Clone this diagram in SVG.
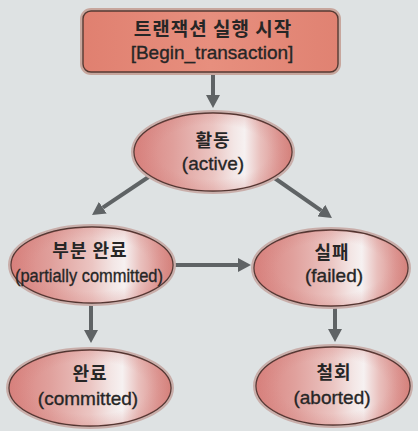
<svg xmlns="http://www.w3.org/2000/svg" width="418" height="431" viewBox="0 0 418 431">
<style>
.ko{font-family:"Noto Sans CJK KR","Noto Sans",sans-serif;font-weight:700;font-size:18px;fill:#262626;text-anchor:middle;letter-spacing:1px}
.en{font-family:"Liberation Sans",Arial,sans-serif;font-size:19px;fill:#262626;stroke:#262626;stroke-width:0.35;text-anchor:middle}
.halo{fill:none;stroke:#c9aeaa;stroke-width:6}
.shape{fill:url(#eg);stroke:#4e332f;stroke-width:1.3}
.shade{fill:url(#rg);stroke:none}
.conn{stroke:#5f6365;stroke-width:4;fill:none;marker-end:url(#ah)}
</style>
<defs>
<linearGradient id="eg" x1="0" y1="0" x2="1" y2="0">
<stop offset="0" stop-color="#d9837f"/>
<stop offset="0.25" stop-color="#e0a09c"/>
<stop offset="0.5" stop-color="#ebc5c2"/>
<stop offset="0.63" stop-color="#f3e6e5"/>
<stop offset="0.7" stop-color="#f6f1f1"/>
<stop offset="0.8" stop-color="#e9c0bd"/>
<stop offset="0.92" stop-color="#de9995"/>
<stop offset="1" stop-color="#d6857f"/>
</linearGradient>
<radialGradient id="rg" cx="0.5" cy="0.5" r="0.5">
<stop offset="0.7" stop-color="#cf7470" stop-opacity="0"/>
<stop offset="1" stop-color="#cf7470" stop-opacity="0.22"/>
</radialGradient>
<linearGradient id="bg" x1="0" y1="0" x2="1" y2="0">
<stop offset="0" stop-color="#e08070"/>
<stop offset="0.5" stop-color="#e78f7e"/>
<stop offset="1" stop-color="#e08272"/>
</linearGradient>
<marker id="ah" viewBox="0 0 13 14" refX="0" refY="7" markerWidth="13" markerHeight="14" markerUnits="userSpaceOnUse" orient="auto">
<path d="M0,0 L13,7 L0,14 z" fill="#5f6365"/>
</marker>
</defs>
<rect x="0" y="0" width="418" height="431" fill="#dee2e3"/>
<g id="connectors">
<line class="conn" x1="213" y1="74" x2="213" y2="95"/>
<line class="conn" x1="150" y1="176" x2="102.8" y2="207.7"/>
<line class="conn" x1="273" y1="177" x2="321.3" y2="210.6"/>
<line class="conn" x1="174" y1="265" x2="238" y2="265"/>
<line class="conn" x1="91" y1="305" x2="91" y2="330"/>
<line class="conn" x1="335" y1="307" x2="335" y2="329"/>
</g>
<g id="begin">
<rect x="83" y="11" width="255" height="61" rx="8" fill="none" stroke="#c7a69d" stroke-width="6"/>
<rect x="83" y="11" width="255" height="61" rx="8" fill="url(#bg)" stroke="#553a33" stroke-width="1.4"/>
<text class="ko" x="213" y="36" style="font-size:19px">트랜잭션 실행 시작</text>
<text class="en" x="212" y="59">[Begin_transaction]</text>
</g>
<g id="active">
<ellipse class="halo" cx="213" cy="152" rx="79" ry="39"/>
<ellipse class="shape" cx="213" cy="152" rx="79" ry="39"/>
<ellipse class="shade" cx="213" cy="152" rx="79" ry="39"/>
<text class="ko" x="213" y="147">활동</text>
<text class="en" x="213" y="170">(active)</text>
</g>
<g id="partially-committed">
<ellipse class="halo" cx="92" cy="265" rx="81" ry="38"/>
<ellipse class="shape" cx="92" cy="265" rx="81" ry="38"/>
<ellipse class="shade" cx="92" cy="265" rx="81" ry="38"/>
<text class="ko" x="90" y="257">부분 완료</text>
<text class="en" x="89" y="282" textLength="148" lengthAdjust="spacingAndGlyphs">(partially committed)</text>
</g>
<g id="failed">
<ellipse class="halo" cx="331" cy="268" rx="77" ry="38"/>
<ellipse class="shape" cx="331" cy="268" rx="77" ry="38"/>
<ellipse class="shade" cx="331" cy="268" rx="77" ry="38"/>
<text class="ko" x="332" y="259">실패</text>
<text class="en" x="334" y="282">(failed)</text>
</g>
<g id="committed">
<ellipse class="halo" cx="90" cy="388" rx="81" ry="38"/>
<ellipse class="shape" cx="90" cy="388" rx="81" ry="38"/>
<ellipse class="shade" cx="90" cy="388" rx="81" ry="38"/>
<text class="ko" x="90" y="380">완료</text>
<text class="en" x="88" y="405">(committed)</text>
</g>
<g id="aborted">
<ellipse class="halo" cx="333" cy="386" rx="77" ry="39"/>
<ellipse class="shape" cx="333" cy="386" rx="77" ry="39"/>
<ellipse class="shade" cx="333" cy="386" rx="77" ry="39"/>
<text class="ko" x="334" y="379">철회</text>
<text class="en" x="332" y="404">(aborted)</text>
</g>
</svg>
